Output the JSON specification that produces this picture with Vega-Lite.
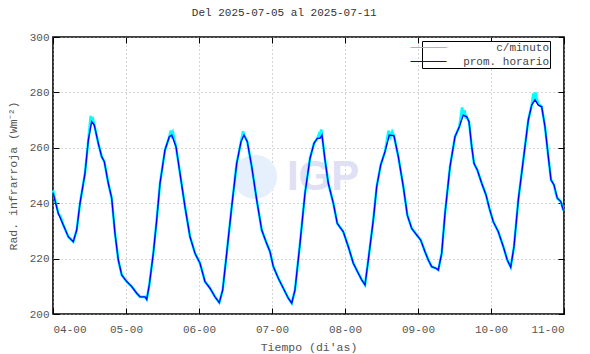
{
  "$schema": "https://vega.github.io/schema/vega-lite/v6.json",
  "width": 511,
  "height": 277,
  "autosize": "none",
  "padding": {"left": 53, "top": 37, "right": 26, "bottom": 40},
  "title": {"text": "Del 2025-07-05 al 2025-07-11", "frame": "bounds", "dx": -4, "font": "Liberation Mono", "fontSize": 11, "fontWeight": "normal", "color": "#333", "offset": 13},
  "config": {
    "view": {"stroke": "#000", "strokeWidth": 1.6},
    "font": "Liberation Mono",
    "axis": {"labelFont": "Liberation Mono", "labelFontSize": 11, "labelColor": "#555", "titleFont": "Liberation Mono", "titleFontSize": 11.5, "titleFontWeight": "normal", "titleColor": "#555", "domain": false, "tickColor": "#000", "tickWidth": 1, "tickSize": -6, "gridColor": "#aaa", "gridDash": [1, 3], "gridWidth": 1}
  },
  "datasets": {
    "hora": [
      {"h":0,"v":243.8},{"h":1.74,"v":236.3},{"h":3.39,"v":232.1},{"h":5.03,"v":227.9},{"h":6.67,"v":226.1},{"h":7.79,"v":230.3},{"h":8.88,"v":240},{"h":10.52,"v":250.8},{"h":11.61,"v":262.8},{"h":12.72,"v":269.4},{"h":13.58,"v":268.2},{"h":14.89,"v":261.6},{"h":16.01,"v":256.8},{"h":16.87,"v":255},{"h":18.18,"v":247.2},{"h":19.3,"v":241.8},{"h":20.38,"v":229.1},{"h":21.47,"v":219.5},{"h":22.59,"v":214.1},{"h":24.23,"v":211.7},{"h":25.87,"v":209.9},{"h":27.52,"v":207.5},{"h":28.6,"v":206.2},{"h":30.25,"v":206.2},{"h":30.81,"v":205.3},{"h":31.66,"v":210.5},{"h":32.98,"v":221.9},{"h":34.09,"v":233.9},{"h":35.18,"v":247.2},{"h":36.82,"v":259.2},{"h":38.24,"v":264},{"h":39.03,"v":264.6},{"h":40.44,"v":260.4},{"h":41.75,"v":250.8},{"h":43.4,"v":238.7},{"h":45.04,"v":227.9},{"h":46.69,"v":221.9},{"h":48.33,"v":218.3},{"h":49.97,"v":211.7},{"h":51.62,"v":209.3},{"h":53.26,"v":206.2},{"h":54.67,"v":204.1},{"h":55.79,"v":208.7},{"h":57.11,"v":221.9},{"h":58.75,"v":238.7},{"h":60.4,"v":254.4},{"h":61.81,"v":262.2},{"h":62.8,"v":264.6},{"h":63.88,"v":262.2},{"h":65.33,"v":253.2},{"h":66.97,"v":241.2},{"h":68.62,"v":230.3},{"h":70.03,"v":226.1},{"h":71.34,"v":222.5},{"h":72.43,"v":217.1},{"h":74.07,"v":212.9},{"h":75.72,"v":209.3},{"h":77.36,"v":205.7},{"h":78.48,"v":203.9},{"h":79.56,"v":208.7},{"h":81.21,"v":225.5},{"h":82.85,"v":243.6},{"h":84.49,"v":256.2},{"h":85.81,"v":261.6},{"h":86.89,"v":263.4},{"h":87.78,"v":263.4},{"h":88.44,"v":264.6},{"h":89.43,"v":255.6},{"h":90.51,"v":247.2},{"h":92.15,"v":240},{"h":93.47,"v":232.7},{"h":95.44,"v":229.7},{"h":97.09,"v":224.3},{"h":98.73,"v":218.3},{"h":100.37,"v":214.7},{"h":101.49,"v":212.3},{"h":102.58,"v":210.5},{"h":103.66,"v":219.5},{"h":105.3,"v":233.9},{"h":106.42,"v":246},{"h":107.74,"v":253.8},{"h":109.15,"v":258.6},{"h":110.57,"v":264.6},{"h":112.11,"v":264.3},{"h":113.53,"v":256.8},{"h":115.17,"v":246},{"h":116.49,"v":235.7},{"h":117.93,"v":230.9},{"h":119.58,"v":228.5},{"h":120.89,"v":226.7},{"h":122.3,"v":222.5},{"h":123.39,"v":219.5},{"h":124.5,"v":217.1},{"h":125.92,"v":216.5},{"h":126.67,"v":215.9},{"h":127.79,"v":221.9},{"h":128.88,"v":236.3},{"h":130.52,"v":253.2},{"h":132.16,"v":264},{"h":133.58,"v":267.6},{"h":134.89,"v":271.8},{"h":136.01,"v":271.2},{"h":136.77,"v":269.4},{"h":137.66,"v":260.4},{"h":138.41,"v":254.4},{"h":139.5,"v":252},{"h":140.94,"v":247.2},{"h":142.36,"v":243},{"h":143.44,"v":238.2},{"h":144.76,"v":233.3},{"h":146.4,"v":229.7},{"h":148.05,"v":224.3},{"h":149.36,"v":219.5},{"h":150.48,"v":216.9},{"h":151.56,"v":224.3},{"h":152.98,"v":241.2},{"h":154.62,"v":255.6},{"h":156.26,"v":270},{"h":157.38,"v":275.4},{"h":158.47,"v":277.3},{"h":159.55,"v":275.4},{"h":160.67,"v":274.8},{"h":161.75,"v":267.6},{"h":162.84,"v":256.8},{"h":163.73,"v":248.4},{"h":164.71,"v":246.6},{"h":165.8,"v":241.8},{"h":166.92,"v":240.6},{"h":167.77,"v":237.6},{"h":168,"v":237.5}
    ],
    "minuto": [
      {"h":0,"v":244.6},{"h":1.74,"v":236.3},{"h":2.5,"v":235.2},{"h":3.39,"v":232.1},{"h":5.03,"v":227.9},{"h":6.67,"v":226.1},{"h":7.79,"v":230.3},{"h":8.88,"v":240},{"h":10.52,"v":250.8},{"h":11.61,"v":262.8},{"h":12.4,"v":271.5},{"h":12.72,"v":269.8},{"h":13.1,"v":270.4},{"h":13.58,"v":268.2},{"h":14.89,"v":261.6},{"h":16.01,"v":256.8},{"h":16.87,"v":255},{"h":18.18,"v":247.2},{"h":19.3,"v":241.8},{"h":20.38,"v":229.1},{"h":21.47,"v":219.5},{"h":22.59,"v":214.1},{"h":24.23,"v":211.7},{"h":25.87,"v":209.9},{"h":27.52,"v":207.5},{"h":28.6,"v":206.2},{"h":30.25,"v":206.2},{"h":30.81,"v":205.3},{"h":31.66,"v":210.5},{"h":32.98,"v":221.9},{"h":34.09,"v":233.9},{"h":35.18,"v":247.2},{"h":36.82,"v":259.2},{"h":38.24,"v":264},{"h":38.7,"v":266.2},{"h":39.03,"v":264.6},{"h":39.4,"v":265.6},{"h":40.44,"v":260.4},{"h":41.75,"v":250.8},{"h":43.4,"v":238.7},{"h":45.04,"v":227.9},{"h":46.69,"v":221.9},{"h":48.33,"v":218.3},{"h":49.97,"v":211.7},{"h":51.62,"v":209.3},{"h":53.26,"v":206.2},{"h":54.67,"v":204.1},{"h":55.79,"v":208.7},{"h":57.11,"v":221.9},{"h":58.75,"v":238.7},{"h":60.4,"v":254.4},{"h":61.81,"v":262.2},{"h":62.5,"v":266},{"h":62.8,"v":264.6},{"h":63.88,"v":262.2},{"h":65.33,"v":253.2},{"h":66.97,"v":241.2},{"h":68.62,"v":230.3},{"h":70.03,"v":226.1},{"h":71.34,"v":222.5},{"h":72.43,"v":217.1},{"h":74.07,"v":212.9},{"h":75.72,"v":209.3},{"h":77.36,"v":205.7},{"h":78.48,"v":203.9},{"h":79.56,"v":208.7},{"h":81.21,"v":225.5},{"h":82.85,"v":243.6},{"h":84.49,"v":256.2},{"h":85.81,"v":261.6},{"h":86.89,"v":263.4},{"h":87.4,"v":264.8},{"h":87.78,"v":263.4},{"h":88.2,"v":266.6},{"h":88.44,"v":264.6},{"h":89.43,"v":255.6},{"h":90.51,"v":247.2},{"h":92.15,"v":240},{"h":93.47,"v":232.7},{"h":95.44,"v":229.7},{"h":97.09,"v":224.3},{"h":98.73,"v":218.3},{"h":100.37,"v":214.7},{"h":101.49,"v":212.3},{"h":102.58,"v":210.5},{"h":103.66,"v":219.5},{"h":105.3,"v":233.9},{"h":106.42,"v":246},{"h":107.74,"v":253.8},{"h":109.15,"v":258.6},{"h":110.3,"v":266.2},{"h":110.9,"v":264},{"h":111.5,"v":265.8},{"h":112.11,"v":264.3},{"h":113.53,"v":256.8},{"h":115.17,"v":246},{"h":116.49,"v":235.7},{"h":117.93,"v":230.9},{"h":119.58,"v":228.5},{"h":120.89,"v":226.7},{"h":122.3,"v":222.5},{"h":123.39,"v":219.5},{"h":124.5,"v":217.1},{"h":125.92,"v":216.5},{"h":126.67,"v":215.9},{"h":127.79,"v":221.9},{"h":128.88,"v":236.3},{"h":130.52,"v":253.2},{"h":132.16,"v":264},{"h":133.58,"v":267.6},{"h":134.5,"v":274.6},{"h":134.89,"v":271.8},{"h":135.3,"v":273.6},{"h":135.7,"v":271},{"h":136.01,"v":271.2},{"h":136.77,"v":269.4},{"h":137.66,"v":260.4},{"h":138.41,"v":254.4},{"h":139.5,"v":252},{"h":140.94,"v":247.2},{"h":142.36,"v":243},{"h":143.44,"v":238.2},{"h":144.76,"v":233.3},{"h":146.4,"v":229.7},{"h":148.05,"v":224.3},{"h":149.36,"v":219.5},{"h":150.48,"v":216.9},{"h":151.56,"v":224.3},{"h":152.98,"v":241.2},{"h":154.62,"v":255.6},{"h":156.26,"v":270},{"h":157.38,"v":275.4},{"h":157.9,"v":279.6},{"h":158.3,"v":277},{"h":158.6,"v":280},{"h":159.1,"v":277.5},{"h":159.55,"v":275.8},{"h":160.67,"v":274.8},{"h":161.75,"v":267.6},{"h":162.84,"v":256.8},{"h":163.73,"v":248.4},{"h":164.71,"v":246.6},{"h":165.3,"v":243.5},{"h":165.8,"v":241.8},{"h":166.92,"v":240.6},{"h":167.77,"v":237.6},{"h":168,"v":237.5}
    ]
  },
  "resolve": {"axis": {"x": "independent", "y": "independent"}},
  "layer": [
    {
      "data": {"values": [{}]},
      "mark": {"type": "point", "filled": true, "color": "#e6effc", "opacity": 1, "size": 1950},
      "encoding": {
        "x": {"datum": 66.4, "type": "quantitative", "scale": {"domain": [0, 168], "nice": false, "zero": false},
              "axis": {"orient": "top", "values": [0,24,48,72,96,120,144,168], "labels": false, "grid": false, "title": null}},
        "y": {"datum": 249.5, "type": "quantitative", "scale": {"domain": [200, 300], "nice": false, "zero": false},
              "axis": {"orient": "right", "values": [200,220,240,260,280,300], "labels": false, "grid": false, "title": null}}
      }
    },
    {
      "data": {"values": [{}]},
      "mark": {"type": "text", "text": "IGP", "font": "Liberation Sans", "fontWeight": "bold", "fontSize": 42, "color": "#e0e0f5", "align": "center", "baseline": "middle"},
      "encoding": {
        "x": {"datum": 88.8, "type": "quantitative", "axis": null},
        "y": {"datum": 249.5, "type": "quantitative", "axis": null}
      }
    },
    {
      "data": {"name": "minuto"},
      "mark": {"type": "line", "strokeWidth": 2.6},
      "encoding": {
        "x": {"field": "h", "type": "quantitative", "axis": null},
        "y": {"field": "v", "type": "quantitative", "axis": null},
        "color": {"datum": "c/minuto"}
      }
    },
    {
      "data": {"name": "hora"},
      "mark": {"type": "line", "strokeWidth": 1.4},
      "encoding": {
        "x": {"field": "h", "type": "quantitative",
              "axis": {"values": [0,24,48,72,96,120,144,168], "labelExpr": "(datum.value/24+4 < 10 ? '0' : '') + (datum.value/24+4) + '-00'", "labelPadding": 15, "title": "Tiempo (di'as)", "titlePadding": 7, "grid": true}},
        "y": {"field": "v", "type": "quantitative",
              "axis": {"values": [200,220,240,260,280,300], "labelPadding": 10, "title": "Rad. infrarroja (Wm⁻²)", "titlePadding": 11, "grid": true}},
        "color": {"datum": "prom. horario", "type": "nominal",
                  "scale": {"domain": ["c/minuto", "prom. horario"], "range": ["#00ffff", "#0000ff"]},
                  "legend": {"title": null, "orient": "none", "legendX": 369, "legendY": 4, "strokeColor": "#000", "fillColor": "#fff", "padding": 1, "symbolType": "M-6,0H6", "symbolSize": 36, "symbolStrokeWidth": 1.2, "labelFont": "Liberation Mono", "labelFontSize": 11, "labelColor": "#444", "labelAlign": "right", "labelOffset": 115, "rowPadding": 2, "cornerRadius": 0}}
      }
    }
  ]
}
